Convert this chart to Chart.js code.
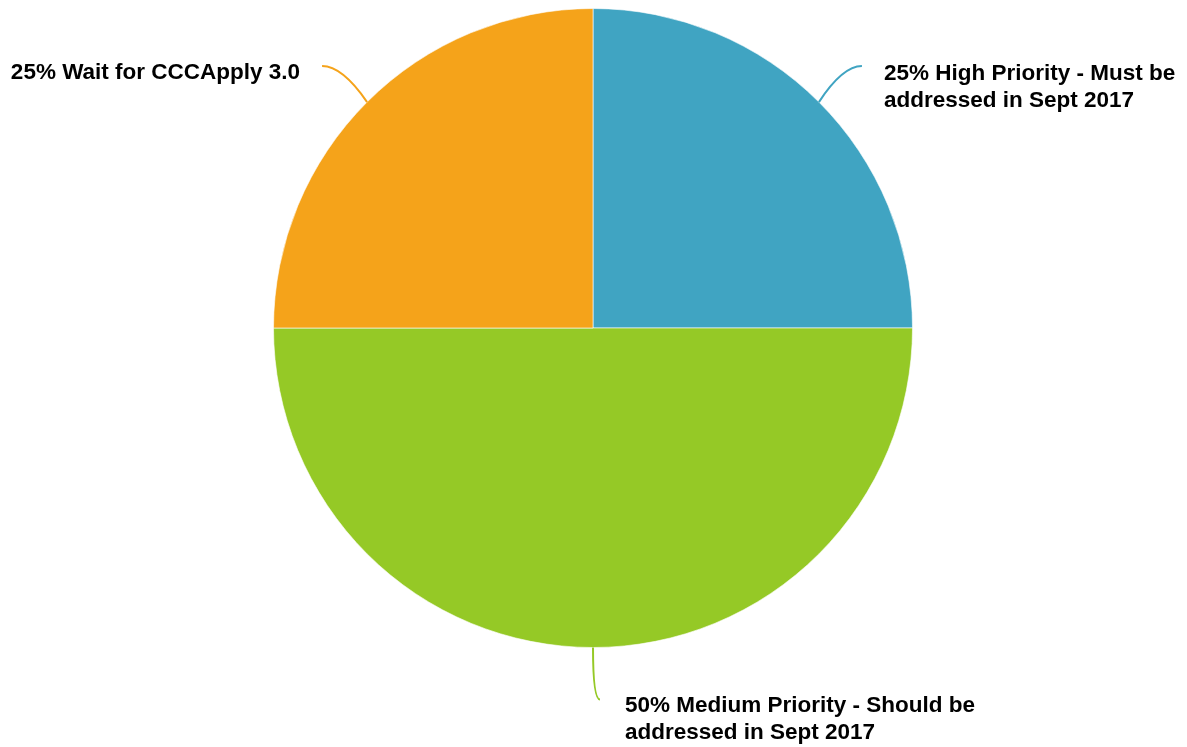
<!DOCTYPE html>
<html>
<head>
<meta charset="utf-8">
<script src="https://cdn.jsdelivr.net/npm/chart.js@4.4.0/dist/chart.umd.min.js"></script>
<style>
  html, body { margin: 0; padding: 0; background: #fff; }
  #wrap { width: 1187px; height: 747px; position: relative; }
</style>
</head>
<body>
<div id="wrap"><canvas id="grafico"></canvas></div>
<script>
// Datos del grafico
const categorias = [
    'High Priority - Must be addressed in Sept 2017',
    'Medium Priority - Should be addressed in Sept 2017',
    'Wait for CCCApply 3.0'
];
const valores = [25, 50, 25];
const colores = ['#40a4c2', '#95c926', '#f5a31a'];

// Etiquetas (texto en varias lineas) que se ven junto al grafico
const etiquetas = [
    ['25% High Priority - Must be', 'addressed in Sept 2017'],
    ['50% Medium Priority - Should be', 'addressed in Sept 2017'],
    ['25% Wait for CCCApply 3.0']
];

// Donde va cada etiqueta respecto del borde de su porcion
const colocacion = [
    { dx: 43, dy: -36, lado: 'der' },
    { dx: 7, dy: 52, lado: 'der', vertical: true },
    { dx: -45, dy: -36, lado: 'izq' }
];

const pluginEtiquetas = {
    id: 'etiquetasConLinea',
    afterDraw(chart) {
        const ctx = chart.ctx;
        const arcos = chart.getDatasetMeta(0).data;
        ctx.save();
        ctx.font = 'bold 22.5px "Liberation Sans", Arial, sans-serif';
        ctx.fillStyle = '#000';
        ctx.textBaseline = 'alphabetic';
        arcos.forEach((arco, i) => {
            const p = arco.getProps(['x', 'y', 'startAngle', 'endAngle', 'outerRadius'], true);
            const medio = (p.startAngle + p.endAngle) / 2;
            const x0 = p.x + Math.cos(medio) * p.outerRadius;
            const y0 = p.y + Math.sin(medio) * p.outerRadius;
            const c = colocacion[i];
            const x1 = x0 + c.dx;
            const y1 = y0 + c.dy;

            // linea curva
            ctx.strokeStyle = colores[i];
            ctx.lineWidth = 2;
            ctx.beginPath();
            ctx.moveTo(x0, y0);
            if (c.vertical) {
                ctx.quadraticCurveTo(x0, y1, x1, y1);
            } else {
                const cx = x0 + c.dx * 0.55;
                const cy = y1;
                ctx.quadraticCurveTo(cx, cy, x1, y1);
            }
            ctx.stroke();

            // texto
            const lineas = etiquetas[i];
            const alto = 27;
            let tx, ty;
            if (c.vertical) {
                tx = x1 + 25;
                ty = y1 + 12;
                ctx.textAlign = 'left';
            } else if (c.lado === 'der') {
                tx = x1 + 22;
                ty = y1 + 14;
                ctx.textAlign = 'left';
            } else {
                tx = x1 - 22;
                ty = y1 + 13;
                ctx.textAlign = 'right';
            }
            lineas.forEach((l, k) => ctx.fillText(l, tx, ty + k * alto));
        });
        ctx.restore();
    }
};

new Chart(document.getElementById('grafico'), {
    type: 'pie',
    data: {
        labels: categorias,
        datasets: [{
            data: valores,
            backgroundColor: colores,
            borderColor: 'rgba(255,255,255,0.6)',
            borderWidth: 1
        }]
    },
    options: {
        responsive: true,
        maintainAspectRatio: false,
        animation: false,
        layout: {
            padding: { top: 8, bottom: 99, left: 273, right: 274 }
        },
        plugins: {
            legend: { display: false },
            tooltip: { enabled: false }
        }
    },
    plugins: [pluginEtiquetas]
});
</script>
</body>
</html>
